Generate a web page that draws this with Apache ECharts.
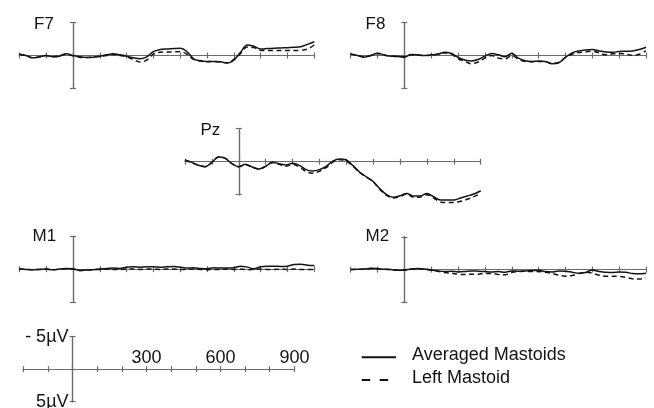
<!DOCTYPE html>
<html>
<head>
<meta charset="utf-8">
<script src="https://cdn.jsdelivr.net/npm/echarts@6/dist/echarts.min.js"></script>
<style>
  html, body { margin: 0; padding: 0; background: #fff; }
  #chart { width: 654px; height: 408px; }
</style>
</head>
<body>
<div id="chart"></div>
<script>
// time points (ms)
var times = [-200, -175, -150, -125, -100, -75, -50, -25, 0, 25, 50, 75, 100, 125, 150, 175, 200, 225, 250, 275, 300,
  325, 350, 375, 400, 425, 450, 475, 500, 525, 550, 575, 600, 625, 650, 675, 700, 725, 750, 775, 800, 825, 850, 875, 900]

// amplitudes in microvolts (negative plotted up)
var f7Avg = [-0.2, 0.0, 0.35, 0.2, 0.0, 0.2, 0.1, -0.25, 0.0, 0.2, 0.3, 0.25, 0.1, -0.1, -0.25, -0.1, 0.1, 0.35, 0.5, 0.2, -0.6,
  -0.9, -1.0, -1.05, -1.1, -0.6, 0.5, 0.8, 0.9, 0.9, 0.95, 1.15, 0.7, -0.5, -1.6, -1.4, -1.0, -1.05, -1.1, -1.15, -1.2, -1.25, -1.35, -1.7, -2.1]
var f7Left = [-0.2, 0.0, 0.35, 0.2, 0.0, 0.15, 0.05, -0.2, 0.05, 0.25, 0.3, 0.2, 0.15, 0.0, -0.15, 0.0, 0.2, 0.6, 1.0, 0.7, -0.2,
  -0.5, -0.55, -0.55, -0.6, -0.2, 0.6, 0.85, 0.95, 0.9, 1.0, 1.1, 0.6, -0.3, -1.3, -1.2, -0.8, -0.75, -0.75, -0.75, -0.75, -0.75, -0.8, -1.0, -1.6]

var f8Avg = [-0.25, 0.0, 0.25, 0.0, -0.35, -0.1, 0.1, 0.15, 0.25, -0.15, -0.1, 0.0, -0.1, -0.2, -0.5, -0.3, 0.3, 0.7, 0.85, 0.6, 0.1,
  -0.3, -0.1, 0.2, -0.35, 0.4, 0.8, 0.9, 0.85, 0.9, 1.25, 1.1, 0.3, -0.4, -0.7, -0.85, -0.9, -0.7, -0.55, -0.5, -0.6, -0.65, -0.7, -0.9, -1.25]
var f8Left = [-0.25, 0.0, 0.2, 0.0, -0.3, -0.05, 0.1, 0.15, 0.2, -0.1, -0.05, 0.0, -0.05, -0.2, -0.4, -0.2, 0.5, 0.9, 1.25, 1.0, 0.4,
  0.0, 0.4, 0.5, 0.0, 0.6, 0.9, 0.95, 0.9, 0.95, 1.2, 1.05, 0.3, -0.2, -0.45, -0.55, -0.65, -0.4, -0.1, -0.25, -0.3, -0.25, 0.0, -0.2, -0.7]

var pzAvg = [-0.25, 0.1, 0.55, 0.75, 0.1, -0.7, -0.5, 0.3, 0.75, 0.4, 0.8, 1.1, 0.7, 0.1, 0.3, 0.5, 0.25, 0.55, 1.2, 1.4, 1.2,
  0.7, -0.1, -0.4, -0.25, 0.6, 1.6, 2.3, 3.0, 4.1, 5.0, 5.4, 5.15, 4.8, 5.2, 5.2, 4.8, 5.3, 5.8, 5.8, 5.8, 5.5, 5.2, 4.9, 4.4]
var pzLeft = [-0.2, 0.15, 0.55, 0.75, 0.1, -0.7, -0.5, 0.3, 0.75, 0.45, 0.85, 1.1, 0.7, 0.15, 0.4, 0.7, 0.4, 0.8, 1.5, 1.75, 1.45,
  0.9, 0.05, -0.3, -0.1, 0.7, 1.65, 2.35, 3.05, 4.2, 5.1, 5.5, 5.3, 4.9, 5.4, 5.35, 5.0, 5.5, 6.1, 6.2, 6.2, 6.0, 5.7, 5.3, 4.8]

var m1Avg = [0.0, 0.05, 0.1, 0.05, 0.0, 0.1, 0.0, -0.1, -0.05, 0.2, 0.15, 0.1, 0.0, -0.1, -0.15, -0.1, -0.3, -0.35, -0.3, -0.35, -0.35,
  -0.3, -0.35, -0.4, -0.3, -0.15, -0.2, -0.1, -0.05, -0.2, -0.15, -0.15, -0.2, -0.45, -0.3, -0.05, -0.35, -0.45, -0.45, -0.4, -0.45, -0.7, -0.75, -0.6, -0.55]
var m1Left = [0.0, 0.05, 0.1, 0.05, 0.0, 0.1, 0.0, -0.05, 0.0, 0.2, 0.15, 0.1, 0.05, 0.0, 0.05, 0.05, 0.0, 0.0, 0.05, 0.0, 0.0,
  0.05, 0.0, 0.0, 0.05, 0.05, 0.0, 0.05, 0.1, 0.05, 0.05, 0.0, 0.05, 0.0, 0.1, 0.05, 0.0, 0.05, 0.05, 0.0, 0.05, 0.0, 0.05, 0.05, 0.05]

var m2Avg = [0.0, -0.05, -0.1, -0.2, -0.15, -0.05, 0.0, 0.1, 0.05, -0.1, -0.15, -0.1, 0.05, 0.2, 0.3, 0.25, 0.35, 0.3, 0.2, 0.25, 0.3,
  0.35, 0.3, 0.4, 0.2, 0.25, 0.2, 0.15, 0.1, 0.3, 0.35, 0.2, 0.25, 0.4, 0.55, 0.45, 0.05, 0.3, 0.4, 0.45, 0.35, 0.4, 0.6, 0.65, 0.55]
var m2Left = [0.0, -0.05, -0.05, -0.15, -0.1, -0.05, 0.0, 0.1, 0.1, -0.05, -0.1, -0.05, 0.1, 0.25, 0.45, 0.55, 0.7, 0.75, 0.7, 0.7, 0.6,
  0.6, 0.75, 0.8, 0.45, 0.3, 0.25, 0.3, 0.3, 0.4, 0.6, 0.85, 1.0, 0.9, 0.6, 0.4, 0.55, 0.85, 1.0, 1.0, 1.05, 1.2, 1.4, 1.45, 1.3]

var channels = ['F7', 'F8', 'Pz', 'M1', 'M2']
var avgSeries = [f7Avg, f8Avg, pzAvg, m1Avg, m2Avg]
var leftSeries = [f7Left, f8Left, pzLeft, m1Left, m2Left]
var scaleTickLabels = [300, 600, 900]
var legendNames = ['Averaged Mastoids', 'Left Mastoid']

// panel boxes in pixels: 5 channels + scale bar
var panels = [
  { left: 19.3, top: 22.7, width: 295, height: 65.6, lx: 34, ly: 25.5 },
  { left: 350.7, top: 22.7, width: 295.3, height: 65.6, lx: 365.5, ly: 25.5 },
  { left: 185, top: 128.7, width: 295.7, height: 66, lx: 200.5, ly: 131.7 },
  { left: 19.3, top: 236.3, width: 295, height: 65.6, lx: 32.5, ly: 238.3 },
  { left: 350.7, top: 236.8, width: 295.3, height: 65.6, lx: 365.5, ly: 238.3 },
  { left: 23.2, top: 336.7, width: 271.2, height: 65, lx: 0, ly: 0 }
]

var AXIS = '#6a6a6a'
var INK = '#141414'
var FONT = '"Liberation Sans", Arial, Helvetica, sans-serif'

function pairs(arr) {
  return times.map(function (t, i) { return [t, arr[i]] })
}

var grids = [], xAxes = [], yAxes = [], series = [], graphics = []

panels.forEach(function (p, i) {
  var isScale = i === 5
  grids.push({ left: p.left, top: p.top, width: p.width, height: p.height, containLabel: false, outerBoundsMode: 'none' })
  ;['bottom', 'top'].forEach(function (pos) {
    xAxes.push({
      gridIndex: i, type: 'value', min: -200, max: 900, interval: 100, position: pos,
      axisLine: { onZero: true, lineStyle: { color: AXIS, width: 1.2 } },
      axisTick: { show: true, inside: false, length: 3, lineStyle: { color: AXIS, width: 1.2 } },
      axisLabel: { show: false },
      splitLine: { show: false }
    })
  })
  ;['left', 'right'].forEach(function (pos) {
    yAxes.push({
      gridIndex: i, type: 'value', min: -5, max: 5, interval: 10, inverse: true, position: pos,
      axisLine: { onZero: true, lineStyle: { color: AXIS, width: 1.2 } },
      axisTick: { show: true, inside: false, length: 3, lineStyle: { color: AXIS, width: 1.2 } },
      axisLabel: { show: false },
      splitLine: { show: false }
    })
  })
  if (isScale) {
    // label-only axes shifted onto the zero lines of the scale bar
    xAxes.push({
      gridIndex: i, type: 'value', min: -200, max: 900, interval: 100, position: 'top',
      offset: -p.height / 2,
      axisLine: { show: false, onZero: false }, axisTick: { show: false }, splitLine: { show: false },
      axisLabel: {
        show: true, margin: 2, fontSize: 18, color: INK, fontFamily: FONT,
        formatter: function (v) { return scaleTickLabels.indexOf(v) >= 0 ? String(v) : '' }
      }
    })
    yAxes.push({
      gridIndex: i, type: 'value', min: -5, max: 5, interval: 10, inverse: true, position: 'left',
      offset: -p.width * 200 / 1100,
      axisLine: { show: false, onZero: false }, axisTick: { show: false }, splitLine: { show: false },
      axisLabel: {
        show: true, margin: 4, fontSize: 18, color: INK, fontFamily: FONT,
        verticalAlign: 'middle', lineHeight: 18, padding: [0, 0, 5, 0],
        formatter: function (v) { return v < 0 ? '- 5µV' : '5µV' }
      }
    })
    return
  }
  series.push({
    name: legendNames[0], type: 'line', xAxisIndex: 2 * i, yAxisIndex: 2 * i,
    data: pairs(avgSeries[i]), showSymbol: false, smooth: 0.35, clip: false, silent: true, z: 4,
    lineStyle: { color: INK, width: 1.5 }
  })
  series.push({
    name: legendNames[1], type: 'line', xAxisIndex: 2 * i, yAxisIndex: 2 * i,
    data: pairs(leftSeries[i]), showSymbol: false, smooth: 0.35, clip: false, silent: true, z: 3,
    lineStyle: { color: INK, width: 1.5, type: [5, 3.5] }
  })
  graphics.push({
    type: 'text', left: p.lx, top: p.ly - 10,
    style: { text: channels[i], fontSize: 17, fill: INK, fontFamily: FONT }
  })
})

// legend drawn as graphic samples
graphics.push(
  { type: 'line', shape: { x1: 361.7, y1: 357.3, x2: 396, y2: 357.3 }, style: { stroke: INK, lineWidth: 2 } },
  { type: 'line', shape: { x1: 361.7, y1: 380, x2: 396, y2: 380 }, style: { stroke: INK, lineWidth: 2, lineDash: [8.5, 9.5] } },
  { type: 'text', left: 412, top: 346.5, style: { text: legendNames[0], fontSize: 18, fill: INK, fontFamily: FONT } },
  { type: 'text', left: 412, top: 369.5, style: { text: legendNames[1], fontSize: 18, fill: INK, fontFamily: FONT } }
)

var chart = echarts.init(document.getElementById('chart'), null, { renderer: 'canvas' })
chart.setOption({
  animation: false,
  backgroundColor: '#fff',
  grid: grids,
  xAxis: xAxes,
  yAxis: yAxes,
  series: series,
  graphic: graphics
})
</script>
</body>
</html>
